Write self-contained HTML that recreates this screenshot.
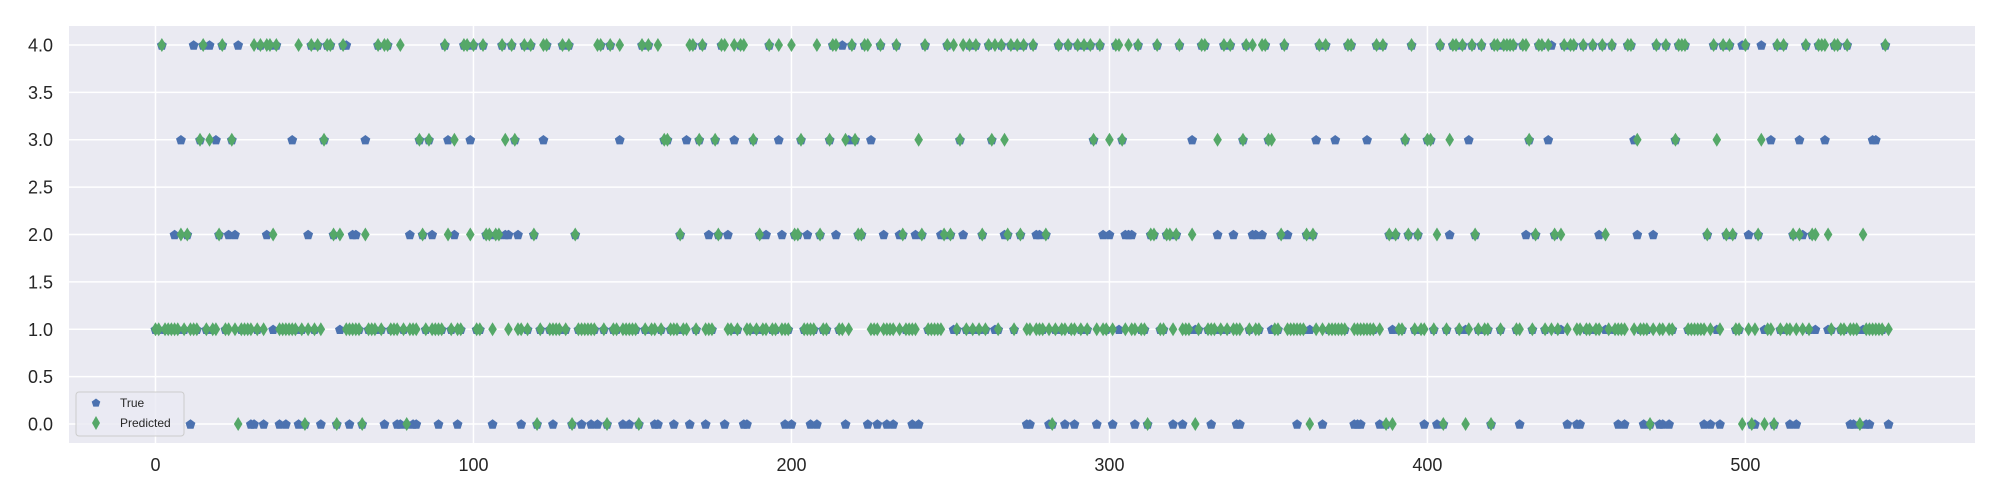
<!DOCTYPE html>
<html><head><meta charset="utf-8"><style>
html,body{margin:0;padding:0;background:#fff;}
svg{display:block;font-family:"Liberation Sans",sans-serif;}
</style></head><body>
<svg id="chart" width="2000" height="500" viewBox="0 0 2000 500" xmlns="http://www.w3.org/2000/svg">
<rect x="69" y="26" width="1906" height="417" fill="#eaeaf2"/>
<g id="grid"></g><g id="ticks"></g><g id="marks"></g>
<g>
<rect x="76" y="392" width="108" height="44" rx="3" fill="#eaeaf2" fill-opacity="0.8" stroke="#cccccc" stroke-width="1"/>
<polygon points="96,398.5 100.3,401.6 98.7,406.6 93.3,406.6 91.7,401.6" fill="#4c72b0"/>
<text x="120" y="407" font-size="12" fill="#262626">True</text>
<polygon points="96,416 100,423 96,430 92,423" fill="#55a868"/>
<text x="120" y="427" font-size="12" fill="#262626">Predicted</text>
</g>
</svg>
<script>
const N = 546;
const xTicks = [0,100,200,300,400,500];
const yTicks = [0,0.5,1,1.5,2,2.5,3,3.5,4];
const yTickLabels = ["0.0","0.5","1.0","1.5","2.0","2.5","3.0","3.5","4.0"];
// predicted class indices (default class 1)
const pred4 = [2,15,21,31,33,35,36,38,45,49,51,54,55,59,70,72,73,77,91,97,98,100,103,109,112,116,118,122,123,128,130,139,140,143,146,153,155,158,165,168,169,172,178,179,182,184,185,193,196,200,208,213,214,219,223,224,228,233,242,249,251,254,256,258,262,264,266,269,271,273,276,284,287,290,292,294,297,302,303,306,309,315,322,326,329,330,336,338,343,345,348,349,355,366,368,375,376,384,386,395,404,408,409,411,414,417,421,422,424,425,426,427,430,431,435,436,438,443,445,446,449,452,455,458,463,464,472,475,479,480,481,490,493,495,500,510,512,519,523,524,525,528,529,532,544];
const pred3 = [14,17,24,53,83,86,94,110,113,160,161,171,176,188,203,212,217,220,240,253,263,267,295,300,304,334,342,350,351,393,400,401,407,432,466,478,491,505];
const pred2 = [8,10,20,37,56,58,66,84,92,99,104,105,107,108,119,132,165,177,190,201,202,209,221,222,235,241,248,250,260,268,272,280,313,314,318,319,321,326,354,362,364,388,390,394,397,403,415,434,440,442,456,488,494,496,504,515,517,521,522,526,537];
const pred0 = [26,47,57,65,79,120,131,142,152,282,312,327,363,387,389,405,412,420,470,499,502,506,509,536];
// true class where visibly different from predicted
const true4 = [12,17,26,60,216,439,499,505];
const true3 = [8,19,43,66,92,99,122,146,167,182,196,218,225,326,365,371,381,413,438,465,508,517,525,540,541];
const true2 = [6,23,25,35,48,62,63,80,87,94,110,111,114,174,180,192,197,205,214,229,234,239,247,254,267,277,278,298,300,305,306,307,334,339,345,346,348,356,407,431,454,466,471,501,518];
const true1 = [37,58,251,264,303,327,351,363,389,412,442,456,491,506,522,526,537];
const true0 = [11,30,31,34,39,41,45,52,61,72,76,77,81,82,89,95,106,115,125,134,137,139,147,149,157,158,163,168,173,179,185,186,198,200,206,208,217,224,227,230,232,238,240,274,275,281,286,289,296,301,308,320,323,332,340,341,359,367,377,378,379,385,399,403,429,444,447,448,460,462,468,473,474,476,487,489,492,503,514,516,533,534,538,539,545];

const predVals = new Array(N).fill(1);
[[pred4,4],[pred3,3],[pred2,2],[pred0,0]].forEach(([l,c])=>l.forEach(i=>predVals[i]=c));
const trueVals = predVals.slice();
[[true4,4],[true3,3],[true2,2],[true1,1],[true0,0]].forEach(([l,c])=>l.forEach(i=>trueVals[i]=c));

const X0=69,X1=1975,Y0=26,Y1=443, xmin=-27.2, xmax=572.2, ymin=-0.2, ymax=4.2;
function sx(v){return X0+(v-xmin)/(xmax-xmin)*(X1-X0);}
function sy(v){return Y1-(v-ymin)/(ymax-ymin)*(Y1-Y0);}
const NS="http://www.w3.org/2000/svg";
const grid=document.getElementById('grid'), ticks=document.getElementById('ticks'), marks=document.getElementById('marks');
function mk(tag,attrs,parent){const e=document.createElementNS(NS,tag);for(const k in attrs)e.setAttribute(k,attrs[k]);parent.appendChild(e);return e;}
yTicks.forEach((v,k)=>{
  const l=mk('line',{x1:X0,x2:X1,y1:sy(v),y2:sy(v),stroke:'#ffffff','stroke-width':1.5},grid);
  
  
  const t=mk('text',{x:53,y:sy(v)+6.5,'text-anchor':'end','font-size':18,fill:'#262626'},ticks);
  t.textContent=yTickLabels[k];
  
  
});
xTicks.forEach(v=>{
  const l=mk('line',{x1:sx(v),x2:sx(v),y1:Y0,y2:Y1,stroke:'#ffffff','stroke-width':1.5},grid);
  
  
  const t=mk('text',{x:sx(v),y:471,'text-anchor':'middle','font-size':18,fill:'#262626'},ticks);
  t.textContent=String(v);
  
  
});
function pent(cx,cy,r){let p=[];for(let k=0;k<5;k++){const a=-Math.PI/2+k*2*Math.PI/5;p.push((cx+r*Math.cos(a)).toFixed(1)+','+(cy+r*Math.sin(a)).toFixed(1));}return p.join(' ');}
trueVals.forEach((v,i)=>{
  const p=mk('polygon',{points:pent(sx(i),sy(v)+0.5,5.2),fill:'#4c72b0'},marks);
  
  
});
predVals.forEach((v,i)=>{
  const cx=sx(i),cy=sy(v);
  const p=mk('polygon',{points:`${cx},${cy-7} ${cx+4.3},${cy} ${cx},${cy+7} ${cx-4.3},${cy}`,fill:'#55a868'},marks);
  
  
});
</script>
</body></html>
